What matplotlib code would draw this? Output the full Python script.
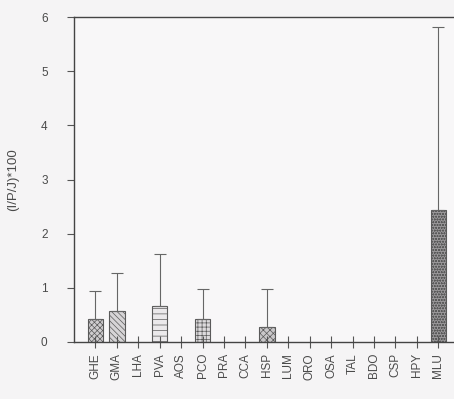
import numpy as np
import matplotlib.pyplot as plt

species = ['GHE', 'GMA', 'LHA', 'PVA', 'AOS', 'PCO', 'PRA', 'CCA', 'HSP',
           'LUM', 'ORO', 'OSA', 'TAL', 'BDO', 'CSP', 'HPY', 'MLU']
values = [0.43, 0.57, 0, 0.67, 0, 0.42, 0, 0, 0.27, 0, 0, 0, 0, 0, 0, 0, 2.43]
err_up = [0.52, 0.71, 0, 0.96, 0, 0.55, 0, 0, 0.70, 0, 0, 0, 0, 0, 0, 0, 3.39]
hatches = ['xxxxxx', '\\\\\\\\\\\\', '', '---', '', '++++', '', '', 'xxxxx',
           '', '', '', '', '', '', '', 'oooooo']
faces = ['#cfcdcf', '#d6d4d6', '#ffffff', '#ebe9eb', '#ffffff', '#dddbdd',
         '#ffffff', '#ffffff', '#c9c7c9', '#ffffff', '#ffffff', '#ffffff',
         '#ffffff', '#ffffff', '#ffffff', '#ffffff', '#9a989a']

plt.rcParams['font.family'] = ['Liberation Sans', 'DejaVu Sans']
plt.rcParams['hatch.linewidth'] = 0.5
text_c = '#4a4a4a'

fig = plt.figure(figsize=(4.54, 3.99), dpi=100)
fig.patch.set_facecolor('#f5f4f5')
ax = fig.add_axes([0.163, 0.143, 0.845, 0.814])
ax.set_facecolor('#f8f7f8')

x = np.arange(len(species))
for i in x:
    if values[i] <= 0:
        continue
    ax.bar(i, values[i], width=0.72, facecolor=faces[i], edgecolor='#5a5a5a',
           hatch=hatches[i], linewidth=0.8)
    ax.errorbar(i, values[i], yerr=[[0], [err_up[i]]], fmt='none',
                ecolor='#666666', elinewidth=0.8, capsize=4, capthick=0.8)

ax.set_xlim(-1, 16.9)
ax.set_ylim(0, 6)
ax.set_yticks([0, 1, 2, 3, 4, 5, 6])
ax.set_xticks(x)
ax.set_xticklabels(species, rotation=90, fontsize=8.5, color=text_c)
ax.tick_params(axis='y', direction='out', length=5, labelsize=8.5,
               labelcolor=text_c, color='#555555', pad=14)
ax.tick_params(axis='x', direction='inout', length=8, color='#555555', pad=4)
ax.set_ylabel('(I/P/J)*100', fontsize=9.5, color=text_c, labelpad=16)

for s in ['left', 'bottom', 'top']:
    ax.spines[s].set_color('#444444')
    ax.spines[s].set_linewidth(1.0)
ax.spines['right'].set_visible(False)

fig.savefig('out.png', dpi=100, facecolor=fig.get_facecolor())
